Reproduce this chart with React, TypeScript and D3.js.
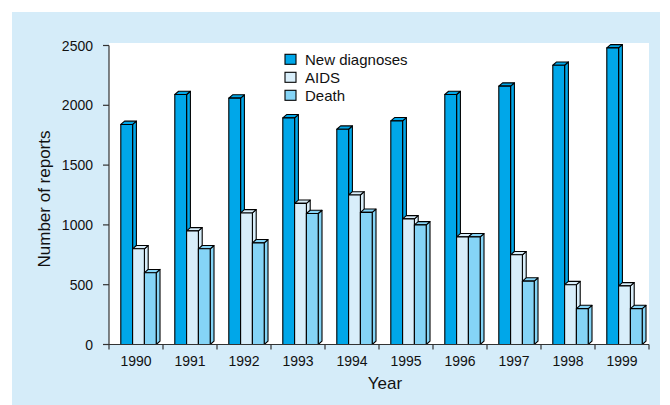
import React from "react";
import * as d3 from "d3";

const years = ["1990", "1991", "1992", "1993", "1994", "1995", "1996", "1997", "1998", "1999"];
const seriesNames = ["New diagnoses", "AIDS", "Death"];
const newDiagnoses = [1840, 2090, 2060, 1895, 1800, 1870, 2090, 2160, 2335, 2480];
const aids = [800, 950, 1100, 1180, 1250, 1050, 900, 750, 500, 490];
const death = [600, 800, 850, 1095, 1105, 1000, 900, 530, 300, 300];
const yTicks = [0, 500, 1000, 1500, 2000, 2500];
const colors = ["#00a7e9", "#d8eefa", "#85d4f6"];

const W = 670;
const H = 405;
const plotLeft = 109;
const plotRight = 649;
const plotTop = 43;
const plotBottom = 344.5;

export default function App() {
  const x = d3.scaleBand<string>().domain(years).range([plotLeft, plotRight]).paddingInner(0).paddingOuter(0);
  const y = d3.scaleLinear().domain([0, 2500]).range([plotBottom, 45.5]);
  const bw = x.bandwidth();
  const barW = 11.8;
  const groupOffset = 11.8;
  const x1 = d3.scaleBand<string>().domain(seriesNames).range([groupOffset, groupOffset + barW * 3]);
  const dx = 3.8;
  const dy = 3.3;
  const data = [newDiagnoses, aids, death];
  const y0 = y(0);
  const font = "'Liberation Sans', Arial, Helvetica, sans-serif";

  const bars: React.ReactNode[] = [];
  years.forEach((yr, i) => {
    seriesNames.forEach((s, j) => {
      const v = data[j][i];
      const bx = (x(yr) as number) + (x1(s) as number);
      const by = y(v);
      const c = colors[j];
      const side = `${bx + barW},${by} ${bx + barW + dx},${by - dy} ${bx + barW + dx},${y0 - dy} ${bx + barW},${y0}`;
      const top = `${bx},${by} ${bx + dx},${by - dy} ${bx + barW + dx},${by - dy} ${bx + barW},${by}`;
      bars.push(
        <g key={`${yr}-${s}`} stroke="#000" strokeWidth={1.1} strokeLinejoin="round">
          <polygon points={side} fill={c} />
          <polygon points={top} fill={c} />
          <rect x={bx} y={by} width={barW} height={y0 - by} fill={c} />
        </g>
      );
    });
  });

  return (
    <svg width={W} height={H} style={{ position: "absolute", left: 0, top: 0, background: "#fff" }}>
      <rect x={12} y={12} width={648} height={H - 12} fill="#d5ecf9" />
      <rect x={plotLeft} y={plotTop} width={plotRight - plotLeft} height={plotBottom - plotTop} fill="#fff" />
      {bars}
      {/* y axis */}
      <line x1={plotLeft} x2={plotLeft} y1={y(2500)} y2={plotBottom} stroke="#333" strokeWidth={1.2} />
      {yTicks.map((t) => (
        <g key={t}>
          <line x1={plotLeft - 6} x2={plotLeft} y1={y(t)} y2={y(t)} stroke="#333" strokeWidth={1.2} />
          <text x={93} y={y(t)} textAnchor="end" dominantBaseline="central" fontFamily={font} fontSize={14} fill="#111">
            {t}
          </text>
        </g>
      ))}
      {/* x axis */}
      <line x1={plotLeft - 6} x2={plotRight} y1={plotBottom} y2={plotBottom} stroke="#333" strokeWidth={1.2} />
      {[...years.map((yr) => x(yr) as number), plotRight].map((px, i) => (
        <line key={i} x1={px} x2={px} y1={plotBottom} y2={plotBottom + 5} stroke="#333" strokeWidth={1.2} />
      ))}
      {years.map((yr) => (
        <text key={yr} x={(x(yr) as number) + bw / 2} y={366} textAnchor="middle" fontFamily={font} fontSize={14} fill="#111">
          {yr}
        </text>
      ))}
      <text x={385} y={389} textAnchor="middle" fontFamily={font} fontSize={17} fill="#111">
        Year
      </text>
      <text
        transform={`translate(50,199) rotate(-90)`}
        textAnchor="middle"
        fontFamily={font}
        fontSize={17}
        fill="#111"
      >
        Number of reports
      </text>
      {/* legend */}
      {seriesNames.map((s, j) => (
        <g key={s}>
          <rect x={285} y={54.3 + j * 18} width={11} height={10} fill={colors[j]} stroke="#000" strokeWidth={1.1} />
          <text x={305} y={59.3 + j * 18} dominantBaseline="central" fontFamily={font} fontSize={15} fill="#111">
            {s}
          </text>
        </g>
      ))}
    </svg>
  );
}
